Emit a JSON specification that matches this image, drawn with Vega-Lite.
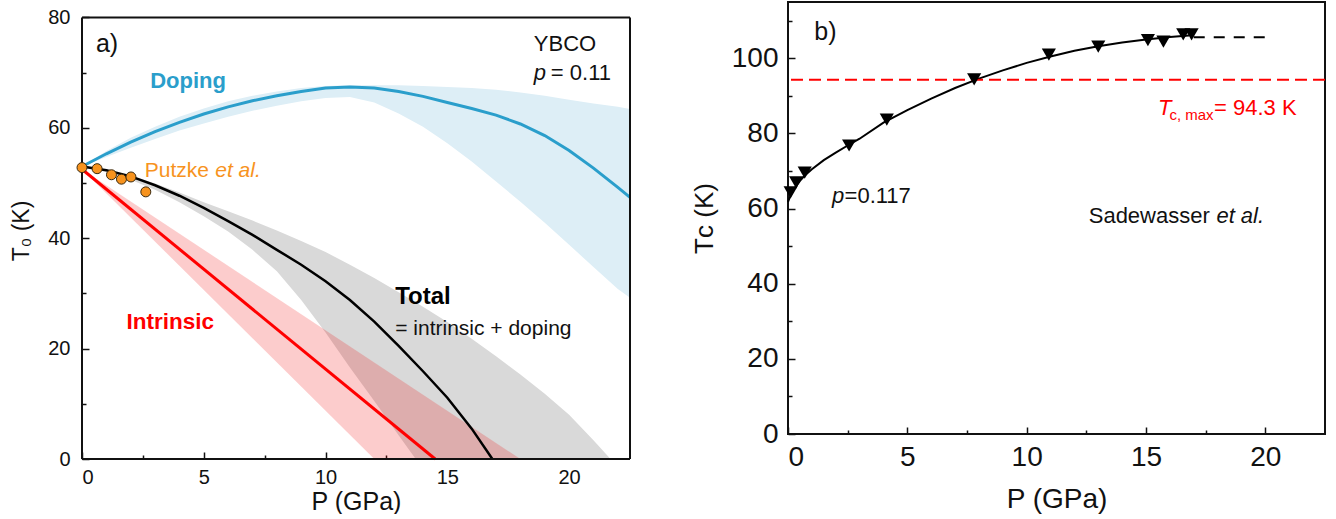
{
  "$schema": "https://vega.github.io/schema/vega-lite/v6.json",
  "padding": {"left": 10, "top": 1, "right": 2, "bottom": 0},
  "spacing": 54,
  "config": {
    "font": "Liberation Sans",
    "view": {"stroke": "#111", "strokeWidth": 2},
    "axis": {"grid": false, "domain": false, "tickColor": "#111", "tickWidth": 1.5, "labelColor": "#111", "titleColor": "#111", "titleFontWeight": "normal"}
  },
  "datasets": {
    "dopingBand": [
      {"P": 0, "lo": 53, "hi": 53}, {"P": 1, "lo": 54.7, "hi": 55.8}, {"P": 2, "lo": 56.4, "hi": 58.2},
      {"P": 3, "lo": 58, "hi": 60.2}, {"P": 4, "lo": 59.5, "hi": 62}, {"P": 5, "lo": 60.8, "hi": 63.5},
      {"P": 6, "lo": 62, "hi": 64.8}, {"P": 7, "lo": 63.1, "hi": 65.8}, {"P": 8, "lo": 64, "hi": 66.6},
      {"P": 9, "lo": 64.8, "hi": 67.2}, {"P": 10, "lo": 65.4, "hi": 67.6}, {"P": 11, "lo": 65.6, "hi": 67.7},
      {"P": 12, "lo": 64.6, "hi": 67.7}, {"P": 13, "lo": 62.6, "hi": 67.7}, {"P": 14, "lo": 60.2, "hi": 67.6},
      {"P": 15, "lo": 57.2, "hi": 67.4}, {"P": 16, "lo": 53.9, "hi": 67.2}, {"P": 17, "lo": 50.3, "hi": 66.9},
      {"P": 18, "lo": 46.6, "hi": 66.4}, {"P": 19, "lo": 42.8, "hi": 65.8}, {"P": 20, "lo": 38.8, "hi": 65.1},
      {"P": 21, "lo": 34.8, "hi": 64.4}, {"P": 22, "lo": 30.8, "hi": 63.8}, {"P": 22.5, "lo": 29.2, "hi": 63.4}
    ],
    "doping": [
      {"P": 0, "T": 53}, {"P": 1, "T": 55.3}, {"P": 2, "T": 57.4}, {"P": 3, "T": 59.3}, {"P": 4, "T": 61.0},
      {"P": 5, "T": 62.5}, {"P": 6, "T": 63.8}, {"P": 7, "T": 64.9}, {"P": 8, "T": 65.8}, {"P": 9, "T": 66.6},
      {"P": 10, "T": 67.2}, {"P": 11, "T": 67.4}, {"P": 12, "T": 67.2}, {"P": 13, "T": 66.6}, {"P": 14, "T": 65.7},
      {"P": 15, "T": 64.6}, {"P": 16, "T": 63.5}, {"P": 17, "T": 62.3}, {"P": 18, "T": 60.7}, {"P": 19, "T": 58.6},
      {"P": 20, "T": 55.9}, {"P": 21, "T": 52.7}, {"P": 22, "T": 49.2}, {"P": 22.5, "T": 47.4}
    ],
    "totalBand": [
      {"P": 0, "lo": 53, "hi": 53}, {"P": 1, "lo": 52, "hi": 52.3}, {"P": 2, "lo": 50.6, "hi": 51.3},
      {"P": 3, "lo": 48.8, "hi": 49.9}, {"P": 4, "lo": 46.5, "hi": 48.3}, {"P": 5, "lo": 44, "hi": 46.5},
      {"P": 6, "lo": 41.2, "hi": 44.9}, {"P": 7, "lo": 37.9, "hi": 43.2}, {"P": 8, "lo": 34, "hi": 41.4},
      {"P": 9, "lo": 28.8, "hi": 39.5}, {"P": 10, "lo": 22.9, "hi": 37.5}, {"P": 11, "lo": 16.6, "hi": 35.2},
      {"P": 12, "lo": 10.5, "hi": 32.8}, {"P": 13, "lo": 4.3, "hi": 30.2}, {"P": 13.7, "lo": 0, "hi": 28.4},
      {"P": 14, "lo": 0, "hi": 27.6}, {"P": 15, "lo": 0, "hi": 24.8}, {"P": 16, "lo": 0, "hi": 21.8},
      {"P": 17, "lo": 0, "hi": 18.6}, {"P": 18, "lo": 0, "hi": 15.3}, {"P": 19, "lo": 0, "hi": 11.8},
      {"P": 20, "lo": 0, "hi": 8}, {"P": 21, "lo": 0, "hi": 3.4}, {"P": 21.7, "lo": 0, "hi": 0}
    ],
    "total": [
      {"P": 0, "T": 53}, {"P": 1, "T": 52.3}, {"P": 2, "T": 51.2}, {"P": 3, "T": 49.6}, {"P": 4, "T": 47.7},
      {"P": 5, "T": 45.5}, {"P": 6, "T": 43.1}, {"P": 7, "T": 40.6}, {"P": 8, "T": 37.9}, {"P": 9, "T": 35.2},
      {"P": 10, "T": 32.2}, {"P": 11, "T": 28.8}, {"P": 12, "T": 24.9}, {"P": 13, "T": 20.5}, {"P": 14, "T": 15.9},
      {"P": 15, "T": 11.1}, {"P": 16, "T": 5.5}, {"P": 16.85, "T": 0}
    ],
    "intrBand": [
      {"P": 0, "lo": 52.5, "hi": 52.5}, {"P": 12, "lo": 0, "hi": 17.5}, {"P": 18, "lo": 0, "hi": 0}
    ],
    "intr": [{"P": 0, "T": 52.5}, {"P": 14.5, "T": 0}],
    "putzke": [
      {"P": 0, "T": 52.8}, {"P": 0.62, "T": 52.6}, {"P": 1.21, "T": 51.5},
      {"P": 1.62, "T": 50.7}, {"P": 2.01, "T": 51.1}, {"P": 2.62, "T": 48.4}
    ],
    "sadewasser": [
      {"P": 0.11, "T": 64.3}, {"P": 0.34, "T": 67}, {"P": 0.7, "T": 69.6}, {"P": 2.56, "T": 76.8},
      {"P": 4.14, "T": 83.7}, {"P": 7.8, "T": 94.4}, {"P": 10.93, "T": 101}, {"P": 13.0, "T": 103.1},
      {"P": 15.08, "T": 104.85}, {"P": 15.73, "T": 104.45}, {"P": 16.56, "T": 106.4}, {"P": 16.91, "T": 106.4}
    ],
    "fit": [
      {"P": 0, "T": 61.8}, {"P": 0.1, "T": 63.4}, {"P": 0.25, "T": 65.2}, {"P": 0.5, "T": 67.4}, {"P": 0.75, "T": 69.1},
      {"P": 1, "T": 70.5}, {"P": 1.5, "T": 72.9}, {"P": 2, "T": 74.9}, {"P": 2.5, "T": 76.8}, {"P": 3, "T": 78.6},
      {"P": 4, "T": 82.9}, {"P": 5, "T": 86.2}, {"P": 6, "T": 89.3}, {"P": 7, "T": 92.1}, {"P": 8, "T": 94.6},
      {"P": 9, "T": 96.8}, {"P": 10, "T": 98.8}, {"P": 11, "T": 100.5}, {"P": 12, "T": 102.0}, {"P": 13, "T": 103.2},
      {"P": 14, "T": 104.2}, {"P": 15, "T": 105.0}, {"P": 16, "T": 105.7}, {"P": 16.8, "T": 106.1}
    ],
    "extrap": [{"P": 17, "T": 105.6}, {"P": 20, "T": 105.6}],
    "one": [{"k": 1}]
  },
  "hconcat": [
    {
      "width": 548,
      "height": 457,
      "view": {"stroke": null},
      "resolve": {"axis": {"x": "independent", "y": "independent"}},
      "layer": [
        {
          "layer": [
            {
              "data": {"name": "dopingBand"},
              "mark": {"type": "area", "color": "#ddeef6"},
              "encoding": {
                "x": {"field": "P", "type": "quantitative", "scale": {"domain": [0, 22.5], "nice": false},
                  "axis": {"orient": "bottom", "values": [0, 5, 10, 15, 20], "offset": -7, "tickSize": 7,
                    "labelFontSize": 20, "labelPadding": 8, "title": "P (GPa)", "titleFontSize": 25, "titlePadding": 2}},
                "y": {"field": "lo", "type": "quantitative", "scale": {"domain": [0, 82.8], "nice": false},
                  "axis": {"orient": "left", "values": [0, 20, 40, 60, 80], "offset": -7, "tickSize": 7,
                    "labelFontSize": 20, "labelPadding": 12, "title": "T₀ (K)", "titleFontSize": 23, "titlePadding": 14}},
                "y2": {"field": "hi"}
              }
            },
            {
              "data": {"name": "totalBand"},
              "mark": {"type": "area", "color": "#d9d9d9"},
              "encoding": {"x": {"field": "P", "type": "quantitative"}, "y": {"field": "lo", "type": "quantitative"}, "y2": {"field": "hi"}}
            },
            {
              "data": {"name": "intrBand"},
              "mark": {"type": "area", "color": "#f20000", "opacity": 0.2},
              "encoding": {"x": {"field": "P", "type": "quantitative"}, "y": {"field": "lo", "type": "quantitative"}, "y2": {"field": "hi"}}
            },
            {
              "data": {"name": "doping"},
              "mark": {"type": "line", "color": "#2a9ecb", "strokeWidth": 3},
              "encoding": {"x": {"field": "P", "type": "quantitative"}, "y": {"field": "T", "type": "quantitative"}}
            },
            {
              "data": {"name": "total"},
              "mark": {"type": "line", "color": "#000000", "strokeWidth": 2.5},
              "encoding": {"x": {"field": "P", "type": "quantitative"}, "y": {"field": "T", "type": "quantitative"}}
            },
            {
              "data": {"name": "intr"},
              "mark": {"type": "line", "color": "#ff0000", "strokeWidth": 3},
              "encoding": {"x": {"field": "P", "type": "quantitative"}, "y": {"field": "T", "type": "quantitative"}}
            },
            {
              "data": {"name": "one"},
              "mark": {"type": "rule", "color": "#111", "strokeWidth": 2},
              "encoding": {"y": {"datum": 0, "type": "quantitative"}}
            },
            {
              "data": {"name": "one"},
              "mark": {"type": "rule", "color": "#111", "strokeWidth": 2},
              "encoding": {"y": {"datum": 80, "type": "quantitative"}}
            },
            {
              "data": {"name": "one"},
              "mark": {"type": "rule", "color": "#111", "strokeWidth": 2},
              "encoding": {"x": {"datum": 0, "type": "quantitative"}, "y": {"datum": 0, "type": "quantitative"}, "y2": {"datum": 80}}
            },
            {
              "data": {"name": "one"},
              "mark": {"type": "rule", "color": "#111", "strokeWidth": 2},
              "encoding": {"x": {"datum": 22.5, "type": "quantitative"}, "y": {"datum": 0, "type": "quantitative"}, "y2": {"datum": 80}}
            },
            {
              "data": {"name": "putzke"},
              "mark": {"type": "point", "filled": true, "fill": "#f7931e", "stroke": "#3a2a10", "strokeWidth": 1, "size": 100, "opacity": 1, "clip": false},
              "encoding": {"x": {"field": "P", "type": "quantitative"}, "y": {"field": "T", "type": "quantitative"}}
            },
            {
              "data": {"name": "one"},
              "mark": {"type": "text", "text": "a)", "align": "left", "baseline": "middle", "fontSize": 25, "color": "#111"},
              "encoding": {"x": {"datum": 0.57, "type": "quantitative"}, "y": {"datum": 75.1, "type": "quantitative"}}
            },
            {
              "data": {"name": "one"},
              "mark": {"type": "text", "text": "YBCO", "align": "left", "baseline": "middle", "fontSize": 22, "color": "#111"},
              "encoding": {"x": {"datum": 18.55, "type": "quantitative"}, "y": {"datum": 75.2, "type": "quantitative"}}
            },
            {
              "data": {"name": "one"},
              "mark": {"type": "text", "text": "p", "align": "left", "baseline": "middle", "fontSize": 22, "fontStyle": "italic", "color": "#111"},
              "encoding": {"x": {"datum": 18.55, "type": "quantitative"}, "y": {"datum": 70, "type": "quantitative"}}
            },
            {
              "data": {"name": "one"},
              "mark": {"type": "text", "text": "= 0.11", "align": "left", "baseline": "middle", "fontSize": 22, "color": "#111"},
              "encoding": {"x": {"datum": 19.25, "type": "quantitative"}, "y": {"datum": 70, "type": "quantitative"}}
            },
            {
              "data": {"name": "one"},
              "mark": {"type": "text", "text": "Doping", "align": "left", "baseline": "middle", "fontSize": 22, "fontWeight": "bold", "color": "#2a9ecb"},
              "encoding": {"x": {"datum": 2.8, "type": "quantitative"}, "y": {"datum": 68.4, "type": "quantitative"}}
            },
            {
              "data": {"name": "one"},
              "mark": {"type": "text", "text": "Putzke", "align": "left", "baseline": "middle", "fontSize": 21, "color": "#f7931e"},
              "encoding": {"x": {"datum": 2.58, "type": "quantitative"}, "y": {"datum": 52.2, "type": "quantitative"}}
            },
            {
              "data": {"name": "one"},
              "mark": {"type": "text", "text": "et al.", "align": "left", "baseline": "middle", "fontSize": 21, "fontStyle": "italic", "color": "#f7931e"},
              "encoding": {"x": {"datum": 5.47, "type": "quantitative"}, "y": {"datum": 52.2, "type": "quantitative"}}
            },
            {
              "data": {"name": "one"},
              "mark": {"type": "text", "text": "Total", "align": "left", "baseline": "middle", "fontSize": 24, "fontWeight": "bold", "color": "#000"},
              "encoding": {"x": {"datum": 12.86, "type": "quantitative"}, "y": {"datum": 29.4, "type": "quantitative"}}
            },
            {
              "data": {"name": "one"},
              "mark": {"type": "text", "text": "= intrinsic + doping", "align": "left", "baseline": "middle", "fontSize": 21, "color": "#111"},
              "encoding": {"x": {"datum": 12.86, "type": "quantitative"}, "y": {"datum": 23.6, "type": "quantitative"}}
            },
            {
              "data": {"name": "one"},
              "mark": {"type": "text", "text": "Intrinsic", "align": "left", "baseline": "middle", "fontSize": 22.5, "fontWeight": "bold", "color": "#ff0000"},
              "encoding": {"x": {"datum": 1.83, "type": "quantitative"}, "y": {"datum": 24.9, "type": "quantitative"}}
            }
          ]
        },
        {
          "data": {"name": "one"},
          "mark": {"type": "point", "opacity": 0},
          "encoding": {
            "x": {"datum": 1, "type": "quantitative",
              "axis": {"orient": "bottom", "values": [2.5, 7.5, 12.5, 17.5], "offset": -4, "tickSize": 4, "labels": false, "title": null}},
            "y": {"datum": 1, "type": "quantitative",
              "axis": {"orient": "left", "values": [10, 30, 50, 70], "offset": -4, "tickSize": 4, "labels": false, "title": null}}
          }
        }
      ]
    },
    {
      "width": 537,
      "height": 432,
      "resolve": {"axis": {"x": "independent", "y": "independent"}},
      "layer": [
        {
          "layer": [
            {
              "data": {"name": "fit"},
              "mark": {"type": "line", "color": "#000", "strokeWidth": 2},
              "encoding": {
                "x": {"field": "P", "type": "quantitative", "scale": {"domain": [0, 22.5], "nice": false},
                  "axis": {"orient": "bottom", "values": [0, 5, 10, 15, 20], "offset": -7, "tickSize": 7,
                    "labelFontSize": 28, "labelPadding": 9, "title": "P (GPa)", "titleFontSize": 28, "titlePadding": 14}},
                "y": {"field": "T", "type": "quantitative", "scale": {"domain": [0, 115], "nice": false},
                  "axis": {"orient": "left", "values": [0, 20, 40, 60, 80, 100], "offset": -7, "tickSize": 7,
                    "labelFontSize": 28, "labelPadding": 10, "title": "Tᴄ (K)", "titleFontSize": 26, "titlePadding": 14}}
              }
            },
            {
              "data": {"name": "one"},
              "mark": {"type": "rule", "color": "#ff0000", "strokeWidth": 2, "strokeDash": [12, 6]},
              "encoding": {"y": {"datum": 94.3, "type": "quantitative"}}
            },
            {
              "data": {"name": "extrap"},
              "mark": {"type": "line", "color": "#000", "strokeWidth": 2, "strokeDash": [11, 9]},
              "encoding": {"x": {"field": "P", "type": "quantitative"}, "y": {"field": "T", "type": "quantitative"}}
            },
            {
              "data": {"name": "sadewasser"},
              "mark": {"type": "point", "shape": "triangle-down", "filled": true, "color": "#000", "size": 200, "opacity": 1, "clip": false},
              "encoding": {"x": {"field": "P", "type": "quantitative"}, "y": {"field": "T", "type": "quantitative"}}
            },
            {
              "data": {"name": "one"},
              "mark": {"type": "text", "text": "b)", "align": "left", "baseline": "middle", "fontSize": 25, "color": "#111"},
              "encoding": {"x": {"datum": 1.1, "type": "quantitative"}, "y": {"datum": 107.1, "type": "quantitative"}}
            },
            {
              "data": {"name": "one"},
              "mark": {"type": "text", "text": "T", "align": "left", "baseline": "middle", "fontSize": 22, "fontStyle": "italic", "color": "#ff0000"},
              "encoding": {"x": {"datum": 15.5, "type": "quantitative"}, "y": {"datum": 86.9, "type": "quantitative"}}
            },
            {
              "data": {"name": "one"},
              "mark": {"type": "text", "text": "c, max", "align": "left", "baseline": "middle", "fontSize": 15, "color": "#ff0000"},
              "encoding": {"x": {"datum": 15.98, "type": "quantitative"}, "y": {"datum": 84.9, "type": "quantitative"}}
            },
            {
              "data": {"name": "one"},
              "mark": {"type": "text", "text": "= 94.3 K", "align": "left", "baseline": "middle", "fontSize": 22, "color": "#ff0000"},
              "encoding": {"x": {"datum": 17.85, "type": "quantitative"}, "y": {"datum": 86.9, "type": "quantitative"}}
            },
            {
              "data": {"name": "one"},
              "mark": {"type": "text", "text": "p", "align": "left", "baseline": "middle", "fontSize": 22, "fontStyle": "italic", "color": "#111"},
              "encoding": {"x": {"datum": 1.84, "type": "quantitative"}, "y": {"datum": 63.4, "type": "quantitative"}}
            },
            {
              "data": {"name": "one"},
              "mark": {"type": "text", "text": "=0.117", "align": "left", "baseline": "middle", "fontSize": 22, "color": "#111"},
              "encoding": {"x": {"datum": 2.37, "type": "quantitative"}, "y": {"datum": 63.4, "type": "quantitative"}}
            },
            {
              "data": {"name": "one"},
              "mark": {"type": "text", "text": "Sadewasser", "align": "left", "baseline": "middle", "fontSize": 22, "color": "#111"},
              "encoding": {"x": {"datum": 12.6, "type": "quantitative"}, "y": {"datum": 58.1, "type": "quantitative"}}
            },
            {
              "data": {"name": "one"},
              "mark": {"type": "text", "text": "et al.", "align": "left", "baseline": "middle", "fontSize": 22, "fontStyle": "italic", "color": "#111"},
              "encoding": {"x": {"datum": 17.95, "type": "quantitative"}, "y": {"datum": 58.1, "type": "quantitative"}}
            }
          ]
        },
        {
          "data": {"name": "one"},
          "mark": {"type": "point", "opacity": 0},
          "encoding": {
            "x": {"datum": 1, "type": "quantitative",
              "axis": {"orient": "bottom", "values": [2.5, 7.5, 12.5, 17.5], "offset": -4, "tickSize": 4, "labels": false, "title": null}},
            "y": {"datum": 1, "type": "quantitative",
              "axis": {"orient": "left", "values": [10, 30, 50, 70, 90, 110], "offset": -4, "tickSize": 4, "labels": false, "title": null}}
          }
        }
      ]
    }
  ]
}
